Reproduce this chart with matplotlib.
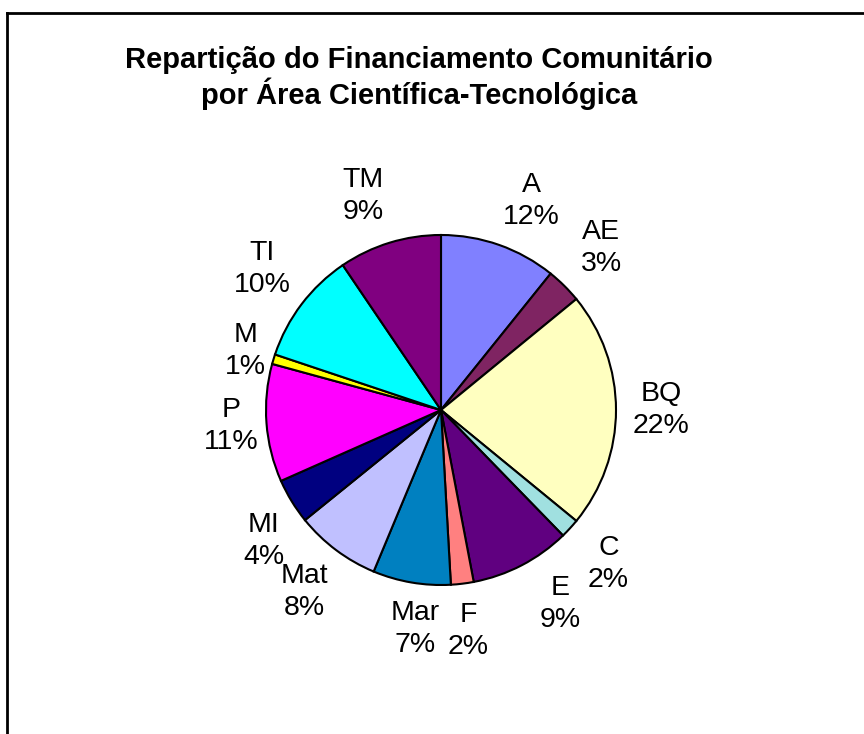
import numpy as np
import matplotlib
matplotlib.use("Agg")
import matplotlib.pyplot as plt

categories = ["A", "AE", "BQ", "C", "E", "F", "Mar", "Mat", "MI", "P", "M", "TI", "TM"]
values = [10.8, 3.3, 21.9, 1.8, 9.3, 2.1, 7.2, 7.9, 4.2, 10.9, 0.9, 10.4, 9.5]
pct_labels = ["12%", "3%", "22%", "2%", "9%", "2%", "7%", "8%", "4%", "11%", "1%", "10%", "9%"]
colors = ["#8080FF", "#7F2462", "#FFFFC0", "#A0E0E0", "#600080", "#FF8080",
          "#0080C0", "#C0C0FF", "#000080", "#FF00FF", "#FFFF00", "#00FFFF", "#800080"]

# label layout nudges (degrees, clockwise) and distance factors
angle_nudge = {"A": 4, "TM": -3, "E": -4, "MI": -5, "Mar": -3, "TI": 1}
dist_factor = {"M": 1.17, "P": 1.2, "BQ": 1.26, "MI": 1.26, "Mar": 1.26, "F": 1.27}

W, H = 864, 734
fig = plt.figure(figsize=(W / 100, H / 100), dpi=100)
ax = fig.add_axes([0, 0, 1, 1])
ax.set_xlim(0, W)
ax.set_ylim(0, H)
ax.set_aspect("equal")
ax.axis("off")

cx, cy, r = 441, H - 410, 175
wedges, _ = ax.pie(values, colors=colors, startangle=90, counterclock=False,
                   center=(cx, cy), radius=r,
                   wedgeprops=dict(edgecolor="black", linewidth=1.5))
ax.set_xlim(0, W)
ax.set_ylim(0, H)

total = sum(values)
cum = 0
for cat, v, lab in zip(categories, values, pct_labels):
    mid = (cum + v / 2) / total * 360 + angle_nudge.get(cat, 0)
    cum += v
    d = r * dist_factor.get(cat, 1.3)
    th = np.deg2rad(mid)
    x = cx + d * np.sin(th)
    y = cy + d * np.cos(th)
    ax.text(x, y, f"{cat}\n{lab}", ha="center", va="center", fontsize=20.5,
            family="Liberation Sans", linespacing=1.3)

ax.text(419, H - 78, "Repartição do Financiamento Comunitário\npor Área Científica-Tecnológica",
        ha="center", va="center", fontsize=21, fontweight="bold",
        family="Liberation Sans", linespacing=1.1)

# frame
ax.plot([7, 7], [0, H - 13], color="black", lw=2, solid_capstyle="projecting")
ax.plot([7, W], [H - 13, H - 13], color="black", lw=2, solid_capstyle="projecting")

fig.savefig("out.png", dpi=100)
